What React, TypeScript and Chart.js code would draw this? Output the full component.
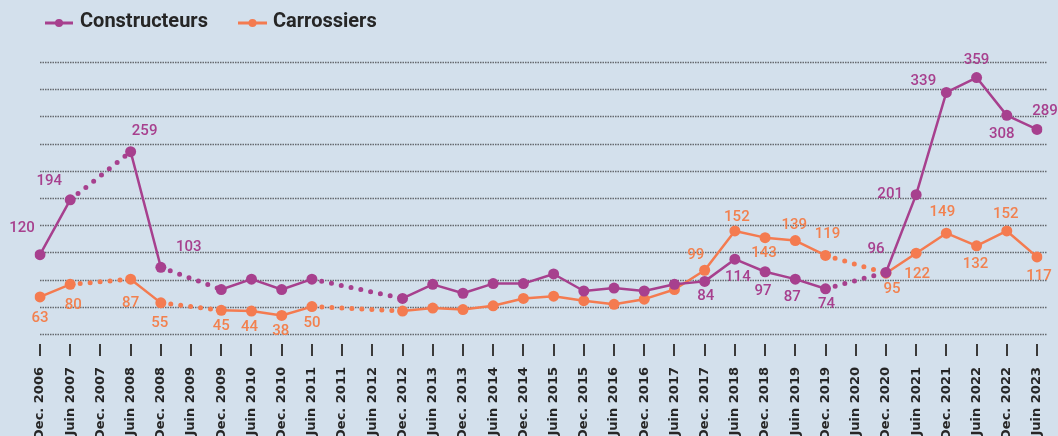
import React, { useEffect, useRef } from 'react';
import { Chart, registerables } from 'chart.js';

Chart.register(...registerables);

// ---- Data ----
const categories: string[] = [
  'Dec. 2006', 'Juin 2007', 'Dec. 2007', 'Juin 2008', 'Dec. 2008', 'Juin 2009', 'Dec. 2009',
  'Juin 2010', 'Dec. 2010', 'Juin 2011', 'Dec. 2011', 'Juin 2012', 'Dec. 2012', 'Juin 2013',
  'Dec. 2013', 'Juin 2014', 'Dec. 2014', 'Juin 2015', 'Dec. 2015', 'Juin 2016', 'Dec. 2016',
  'Juin 2017', 'Dec. 2017', 'Juin 2018', 'Dec. 2018', 'Juin 2019', 'Dec. 2019', 'Juin 2020',
  'Dec. 2020', 'Juin 2021', 'Dec. 2021', 'Juin 2022', 'Dec. 2022', 'Juin 2023',
];

const constructeurs: (number | null)[] = [
  120, 194, null, 259, 103, null, 73,
  87, 73, 87, null, null, 61, 80,
  68, 81, 81, 94, 71, 75, 71,
  80, 84, 114, 97, 87, 74, null,
  96, 201, 339, 359, 308, 289,
];

const carrossiers: (number | null)[] = [
  63, 80, null, 87, 55, null, 45,
  44, 38, 50, null, null, 44, 48,
  46, 51, 61, 64, 58, 53, 60,
  73, 99, 152, 143, 139, 119, null,
  95, 122, 149, 132, 152, 117,
];

const seriesNames = ['Constructeurs', 'Carrossiers'];

// Which points carry a value label, and where the label sits relative to the point (dx, dy)
const constructeursLabelPlacement: Record<number, [number, number]> = {
  0: [-18, -26], 1: [-21, -19], 3: [14, -20], 4: [28, -20],
  22: [1, 15], 23: [3, 18], 24: [-2, 20], 25: [-3, 18], 26: [1, 15],
  28: [-10, -23], 29: [-26, 0], 30: [-23, -11], 31: [0, -17], 32: [-5, 19], 33: [8, -18],
};
const carrossiersLabelPlacement: Record<number, [number, number]> = {
  0: [0, 21], 1: [3, 21], 3: [0, 24], 4: [-1, 20], 6: [0, 16], 7: [-2, 16], 8: [-1, 16], 9: [0, 17],
  22: [-9, -15], 23: [2, -14], 24: [-1, 16], 25: [-1, -15], 26: [2, -21],
  28: [6, 16], 29: [1, 21], 30: [-4, -21], 31: [-1, 18], 32: [-1, -17], 33: [2, 19],
};

// y axis range (grid lines)
const yMin = 13;
const yMax = 380;
const yStep = 36.7;

// ---- Styles ----
const PURPLE = '#A7408E';
const ORANGE = '#F47B50';
const ORANGE_TEXT = '#F2814F';
const BG = '#D3E0EC';
const TEXT = '#262626';
const LABEL_FONT = '500 15px Roboto';

const bgPlugin = {
  id: 'bg',
  beforeDraw(chart: any) {
    const { ctx, width, height } = chart;
    ctx.save();
    ctx.fillStyle = BG;
    ctx.fillRect(0, 0, width, height);
    ctx.restore();
  },
};

const gridPlugin = {
  id: 'customGrid',
  beforeDatasetsDraw(chart: any) {
    const { ctx, chartArea, scales } = chart;
    const y = scales.y;
    const x = scales.x;
    ctx.save();
    ctx.strokeStyle = '#65696e';
    ctx.lineWidth = 1.3;
    ctx.setLineDash([1.5, 1]);
    const values: number[] = y.ticks && y.ticks.length ? y.ticks.map((t: any) => t.value) : [];
    values.forEach((v) => {
      const py = Math.round(y.getPixelForValue(v)) + 0.5;
      ctx.beginPath();
      ctx.moveTo(chartArea.left, py);
      ctx.lineTo(chartArea.right + 10, py);
      ctx.stroke();
    });
    ctx.setLineDash([]);
    ctx.strokeStyle = '#3a3a3a';
    ctx.lineWidth = 2;
    for (let i = 0; i < categories.length; i++) {
      const px = Math.round(x.getPixelForTick(i));
      ctx.beginPath();
      ctx.moveTo(px, chartArea.bottom + 10);
      ctx.lineTo(px, chartArea.bottom + 22);
      ctx.stroke();
    }
    ctx.restore();
  },
};

const labelPlugin = {
  id: 'valueLabels',
  afterDatasetsDraw(chart: any) {
    const { ctx } = chart;
    const placements = [constructeursLabelPlacement, carrossiersLabelPlacement];
    const colors = [PURPLE, ORANGE_TEXT];
    ctx.save();
    ctx.font = LABEL_FONT;
    ctx.textAlign = 'center';
    ctx.textBaseline = 'middle';
    chart.data.datasets.forEach((ds: any, di: number) => {
      const meta = chart.getDatasetMeta(di);
      ctx.fillStyle = colors[di];
      Object.keys(placements[di]).forEach((k) => {
        const i = Number(k);
        const v = ds.data[i];
        if (v === null || v === undefined) return;
        const el = meta.data[i];
        const [dx, dy] = placements[di][i];
        ctx.fillText(String(v), el.x + dx, el.y + dy);
      });
    });
    ctx.restore();
  },
};

const legendPlugin = {
  id: 'customLegend',
  afterDraw(chart: any) {
    const { ctx } = chart;
    const items = [
      { name: seriesNames[0], color: PURPLE, x0: 45, x1: 73, tx: 80 },
      { name: seriesNames[1], color: ORANGE, x0: 238, x1: 267, tx: 273 },
    ];
    const y = 23;
    ctx.save();
    items.forEach((it) => {
      ctx.strokeStyle = it.color;
      ctx.lineWidth = 3;
      ctx.beginPath();
      ctx.moveTo(it.x0, y);
      ctx.lineTo(it.x1, y);
      ctx.stroke();
      ctx.fillStyle = it.color;
      ctx.beginPath();
      ctx.arc((it.x0 + it.x1) / 2, y, 4, 0, Math.PI * 2);
      ctx.fill();
      ctx.fillStyle = TEXT;
      ctx.font = 'bold 20px Roboto';
      ctx.textAlign = 'left';
      ctx.textBaseline = 'middle';
      ctx.fillText(it.name, it.tx, y - 1);
    });
    ctx.restore();
  },
};

// a segment that spans a missing value (the point just before p1 is null) is drawn dotted
const isGap = (ctx: any) => {
  const data = ctx.chart?.data?.datasets?.[ctx.datasetIndex]?.data;
  if (!data) return false;
  const v = data[ctx.p0DataIndex];
  return v === null || v === undefined;
};

function makeDataset(label: string, data: (number | null)[], color: string) {
  return {
    label,
    data,
    borderColor: color,
    backgroundColor: color,
    pointBackgroundColor: color,
    pointBorderColor: color,
    pointBorderWidth: 0,
    pointRadius: 5.5,
    pointHoverRadius: 5.5,
    borderWidth: 2.5,
    borderCapStyle: 'round',
    borderJoinStyle: 'round',
    spanGaps: true,
    tension: 0,
    segment: {
      borderDash: (ctx: any) => (isGap(ctx) ? [0, 10] : undefined),
      borderWidth: (ctx: any) => (isGap(ctx) ? 5 : undefined),
    },
  };
}

export default function App() {
  const canvasRef = useRef<HTMLCanvasElement>(null);

  useEffect(() => {
    document.body.style.margin = '0';
    document.body.style.background = BG;
    const canvas = canvasRef.current;
    if (!canvas) return;
    const chart = new Chart(canvas, {
      type: 'line',
      data: {
        labels: categories,
        datasets: [
          makeDataset(seriesNames[0], constructeurs, PURPLE) as any,
          makeDataset(seriesNames[1], carrossiers, ORANGE) as any,
        ],
      },
      options: {
        animation: false,
        responsive: false,
        maintainAspectRatio: false,
        layout: { padding: { left: 40, right: 21, top: 62, bottom: 0 } },
        plugins: {
          legend: { display: false },
          tooltip: { enabled: false },
        },
        scales: {
          x: {
            grid: { display: false, drawTicks: true, tickLength: 33 },
            border: { display: false },
            ticks: {
              autoSkip: false,
              maxRotation: 90,
              minRotation: 90,
              padding: 0,
              color: TEXT,
              font: { family: 'DejaVu Sans', size: 13, weight: 'bold' },
            },
            afterFit: (scale: any) => {
              scale.height = 116;
            },
          },
          y: {
            display: false,
            min: yMin,
            max: yMax,
            ticks: { stepSize: yStep },
          },
        },
      },
      plugins: [bgPlugin, gridPlugin, labelPlugin, legendPlugin],
    });
    return () => chart.destroy();
  }, []);

  return (
    <div style={{ position: 'fixed', left: 0, top: 0, width: 1058, height: 450 }}>
      <canvas ref={canvasRef} width={1058} height={450} style={{ display: 'block' }} />
    </div>
  );
}
